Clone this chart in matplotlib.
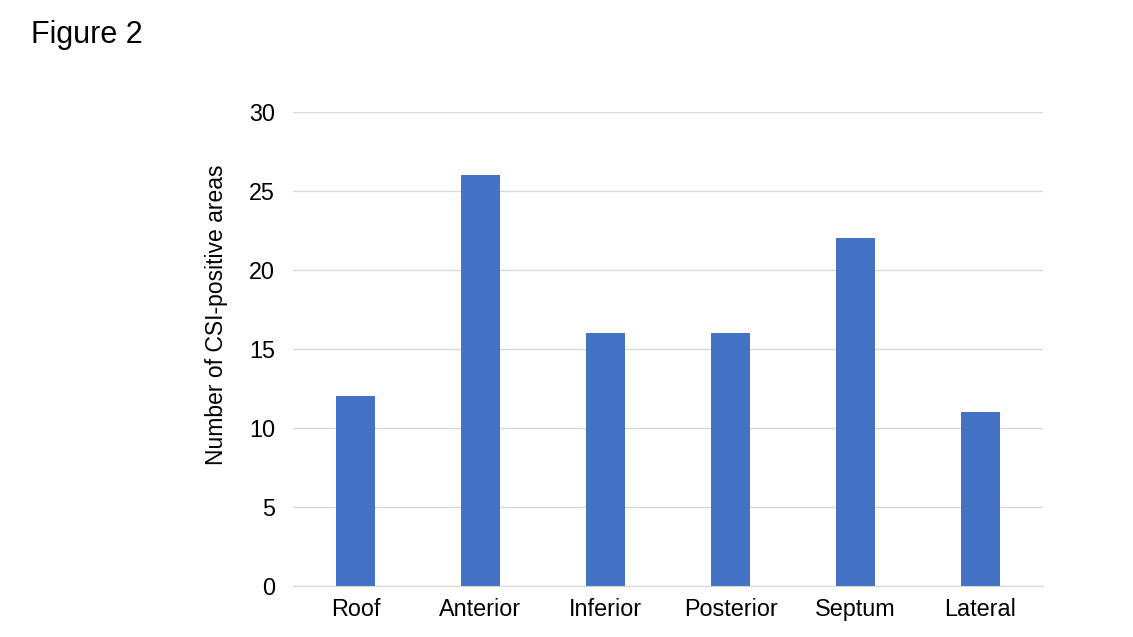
import matplotlib.pyplot as plt
import numpy as np

plt.rcParams["font.family"] = ["Liberation Sans", "DejaVu Sans"]

regions = ["Roof", "Anterior", "Inferior", "Posterior", "Septum", "Lateral"]
counts = [12, 26, 16, 16, 22, 11]
y_ticks = [0, 5, 10, 15, 20, 25, 30]

fig = plt.figure(figsize=(11.33, 6.37), dpi=100)
ax = fig.add_axes([0.2586, 0.0801, 0.662, 0.7441])

x = np.arange(len(regions))
ax.bar(x, counts, width=0.31, color="#4472C4", zorder=3)

ax.set_xlim(-0.5, len(regions) - 0.5)
ax.set_ylim(0, 30)
ax.set_yticks(y_ticks)
ax.set_xticks(x)
ax.set_xticklabels(regions)
ax.grid(axis="y", color="#d9d9d9", linewidth=1, zorder=0)
for side in ["top", "right", "left"]:
    ax.spines[side].set_visible(False)
ax.spines["bottom"].set_color("#d9d9d9")
ax.tick_params(axis="both", length=0, labelsize=16.8, colors="black")
ax.tick_params(axis="y", pad=13)
ax.tick_params(axis="x", pad=9)
ax.set_ylabel("Number of CSI-positive areas", fontsize=16.5, labelpad=15, y=0.572)

fig.text(0.027, 0.945, "Figure 2", fontsize=22, va="center", ha="left")

fig.savefig("out.png", dpi=100)
